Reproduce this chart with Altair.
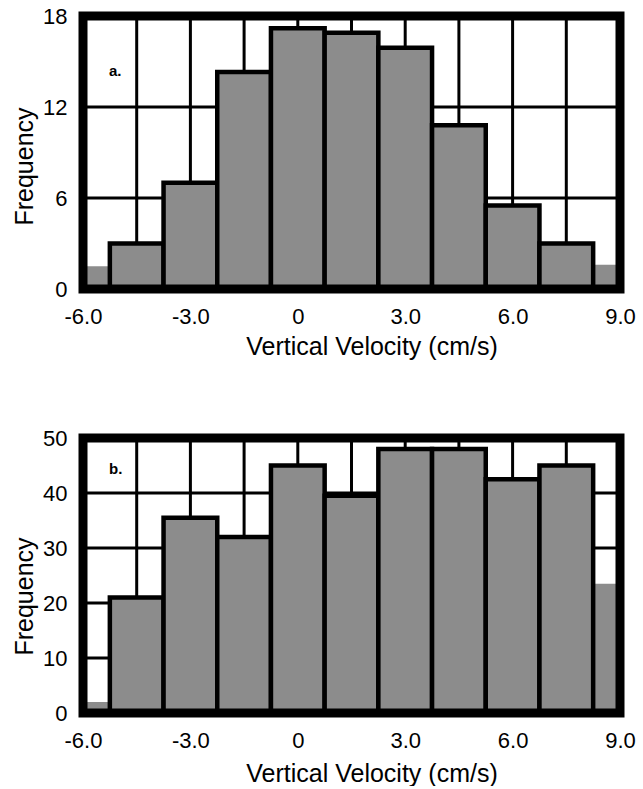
import altair as alt
import pandas as pd

# ---- data ----
BIN_EDGES = [-6.0, -5.25, -3.75, -2.25, -0.75, 0.75, 2.25, 3.75, 5.25, 6.75, 8.25, 9.0]
FREQ_A = [1.5, 3.0, 7.0, 14.3, 17.2, 16.9, 15.9, 10.8, 5.5, 3.0, 1.6]
FREQ_B = [2.0, 21.0, 35.5, 32.0, 45.0, 39.5, 48.0, 48.0, 42.5, 45.0, 23.5]
X_TICKS = [-6, -3, 0, 3, 6, 9]
Y_TICKS_A = [0, 6, 12, 18]
Y_TICKS_B = [0, 10, 20, 30, 40, 50]
GRID_X = [-4.5, -3.0, -1.5, 0.0, 1.5, 3.0, 4.5, 6.0, 7.5]
PANEL_LABELS = ["a.", "b."]
X_TITLE = "Vertical Velocity (cm/s)"
Y_TITLE = "Frequency"

FONT = "Liberation Sans"
BAR_FILL = "#8c8c8c"
W = 537


def panel(freq, yticks, tag, h, y_title_y, x_title_y, tag_y):
    ymax = yticks[-1]
    xlo, xhi = X_TICKS[0], X_TICKS[-1]
    bars = pd.DataFrame({"x0": BIN_EDGES[:-1], "x1": BIN_EDGES[1:], "f": freq})
    bars["zero"] = 0
    bars["w"] = bars["x1"] - bars["x0"]
    full_bars = bars[bars["w"] > 1.0]
    part_bars = bars[bars["w"] <= 1.0]
    xs = alt.Scale(domain=[xlo, xhi], nice=False, zero=False)
    ys = alt.Scale(domain=[0, ymax], nice=False)

    xaxis = alt.Axis(
        values=X_TICKS,
        labelExpr="datum.value == 0 ? '0' : (datum.value < 0 ? '-' : '') + format(abs(datum.value), '.1f')",
        title=X_TITLE, domain=False, ticks=False, grid=False,
        labelFont=FONT, labelFontSize=22, labelColor="black", labelPadding=17,
        labelFlush=False, labelOverlap=False,
        titleFont=FONT, titleFontSize=25, titleFontWeight="normal", titleColor="black",
        titleX=W / 2 + 20, titleY=x_title_y, titleBaseline="alphabetic",
    )
    yaxis = alt.Axis(
        values=yticks, title=Y_TITLE, domain=False, ticks=False, grid=False,
        labelFont=FONT, labelFontSize=22, labelColor="black", labelPadding=16,
        labelFlush=False, labelOverlap=False,
        titleFont=FONT, titleFontSize=25, titleFontWeight="normal", titleColor="black",
        titleX=-51, titleY=y_title_y, titleBaseline="alphabetic", titleAngle=270,
    )

    def X(f):
        return alt.X(f, scale=xs, axis=xaxis)

    def Y(f):
        return alt.Y(f, scale=ys, axis=yaxis)

    hg = pd.DataFrame({"v": yticks[1:-1]})
    hg["a"] = xlo
    hg["b"] = xhi
    hgrid = alt.Chart(hg).mark_rule(color="black", strokeWidth=3).encode(
        y=Y("v:Q"), x=X("a:Q"), x2="b:Q",
    )
    vg = pd.DataFrame({"g": GRID_X})
    vg["lo"] = 0
    vg["hi"] = ymax
    vgrid = alt.Chart(vg).mark_rule(color="black", strokeWidth=3).encode(
        x=X("g:Q"), y=Y("lo:Q"), y2="hi:Q",
    )
    partial = alt.Chart(part_bars).mark_rect(fill=BAR_FILL, strokeWidth=0).encode(
        x=X("x0:Q"), x2="x1:Q", y=Y("f:Q"), y2="zero:Q",
    )
    full = alt.Chart(full_bars).mark_rect(
        fill=BAR_FILL, stroke="black", strokeWidth=4.5, strokeJoin="miter"
    ).encode(
        x=X("x0:Q"), x2="x1:Q", y=Y("f:Q"), y2="zero:Q",
    )
    fr = pd.DataFrame({"x0": [xlo], "x1": [xhi], "y0": [0], "y1": [ymax]})
    frame = alt.Chart(fr).mark_rect(
        fillOpacity=0, stroke="black", strokeWidth=9, strokeJoin="miter"
    ).encode(
        x=X("x0:Q"), x2="x1:Q", y=Y("y0:Q"), y2="y1:Q",
    )
    label = alt.Chart(pd.DataFrame({"t": [tag]})).mark_text(
        font=FONT, fontSize=15, fontWeight="bold", color="black", align="left", baseline="middle"
    ).encode(
        text="t:N", x=alt.value(26), y=alt.value(tag_y)
    )
    return alt.layer(hgrid, vgrid, partial, full, frame, label).properties(width=W, height=h)


pa = panel(FREQ_A, Y_TICKS_A, PANEL_LABELS[0], 273, 150, 65, 55)
pb = panel(FREQ_B, Y_TICKS_B, PANEL_LABELS[1], 275, 158, 68, 31)

chart = alt.vconcat(pa, pb, spacing=68).properties(
    padding={"left": 12, "top": 5, "right": 0, "bottom": 0},
    background="white",
).configure_view(stroke=None)

chart.save("out.html", embed_options={"renderer": "svg", "actions": False})
